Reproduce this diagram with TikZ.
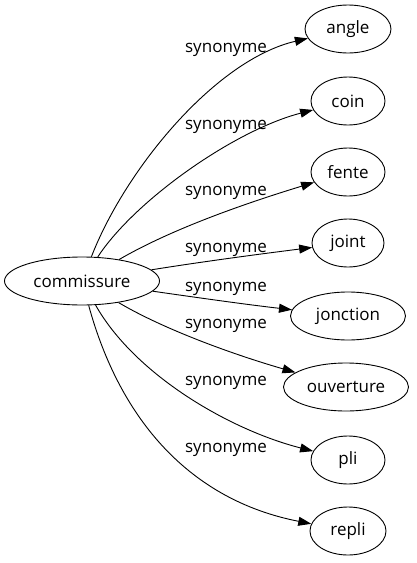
\documentclass[tikz,border=0pt]{standalone}
\usepackage{fontspec}
\setmainfont{Open Sans}
\usetikzlibrary{shapes.geometric,arrows.meta}
\begin{document}
\begin{tikzpicture}[x=1pt,y=-1pt,
  every node/.style={font=\fontsize{17}{20}\selectfont},
  term/.style={draw,ellipse,line width=0.9pt,inner sep=0pt,minimum height=48pt},
  rel/.style={inner sep=1pt},
  link/.style={line width=0.9pt,-{Triangle[length=13pt,width=9pt]}}]
\useasboundingbox (0,0) rectangle (417,563);
\node[term,minimum width=155pt] (c) at (82,281) {commissure};
\node[term,minimum width=86pt] (angle) at (348,29) {angle};
\node[term,minimum width=74pt] (coin) at (348,101) {coin};
\node[term,minimum width=74pt] (fente) at (348,172) {fente};
\node[term,minimum width=72pt] (joint) at (348,243) {joint};
\node[term,minimum width=115pt] (jonction) at (348,316) {jonction};
\node[term,minimum width=125pt] (ouverture) at (346,387) {ouverture};
\node[term,minimum width=74pt] (pli) at (348,460) {pli};
\node[term,minimum width=76pt] (repli) at (348,531) {repli};
\draw[link] (c) .. controls (125,170) and (215,60) .. (angle);
\draw[link] (c) .. controls (135,200) and (235,130) .. (coin);
\draw[link] (c) .. controls (170,230) and (240,205) .. (fente);
\draw[link] (c) .. controls (200,262) and (260,254) .. (joint);
\draw[link] (c) .. controls (200,298) and (250,305) .. (jonction);
\draw[link] (c) .. controls (165,330) and (235,355) .. (ouverture);
\draw[link] (c) .. controls (135,375) and (230,430) .. (pli);
\draw[link] (c) .. controls (120,420) and (190,500) .. (repli);
\node[rel] (l1) at (226,50) {synonyme};
\node[rel] (l2) at (226,127) {synonyme};
\node[rel] (l3) at (226,193) {synonyme};
\node[rel] (l4) at (226,250) {synonyme};
\node[rel] (l5) at (226,289) {synonyme};
\node[rel] (l6) at (226,326) {synonyme};
\node[rel] (l7) at (226,383) {synonyme};
\node[rel] (l8) at (226,450) {synonyme};
\end{tikzpicture}
\end{document}
